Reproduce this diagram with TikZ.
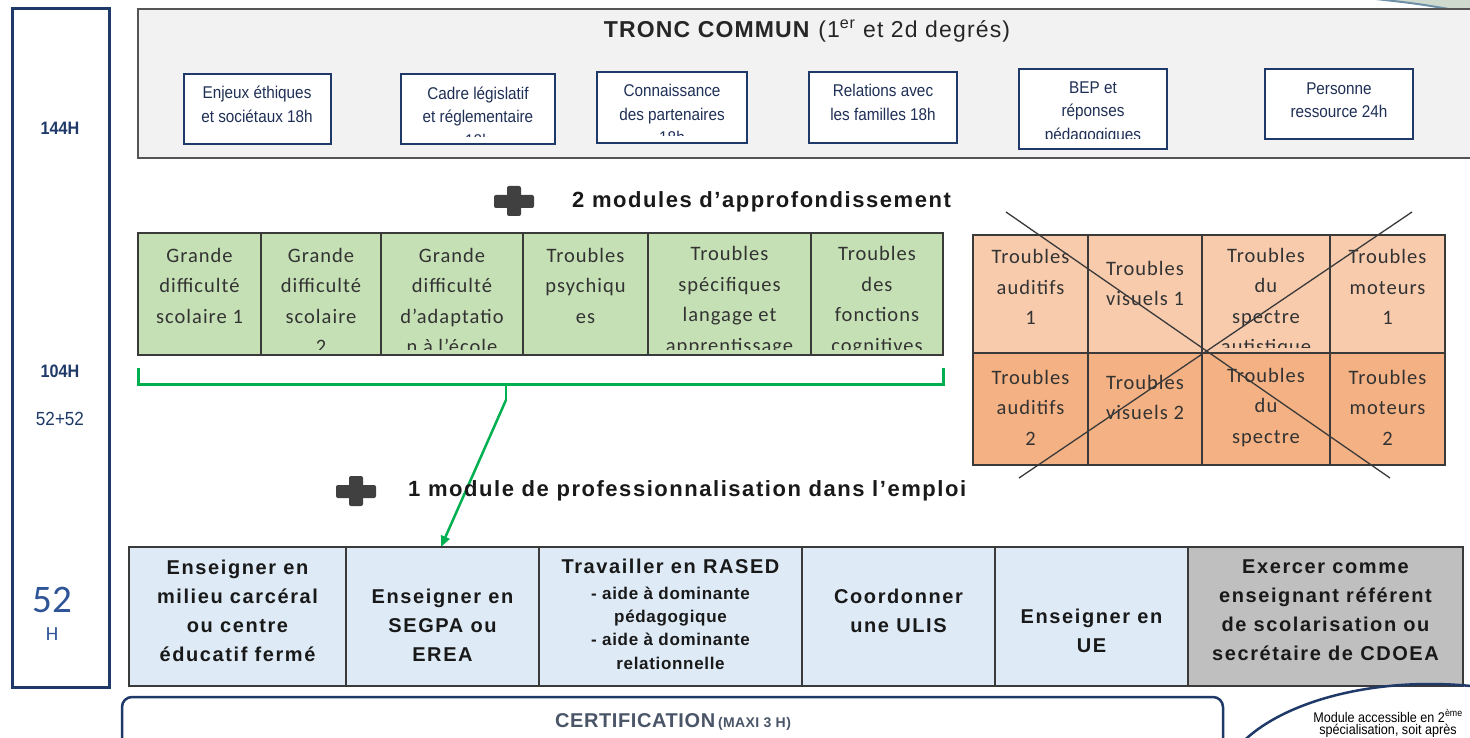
\documentclass[tikz,border=0pt]{standalone}
\usepackage{fontspec}
\setmainfont{Liberation Sans}
\newfontfamily\calib[LetterSpace=5]{Carlito}
\newfontfamily\calibplain{Carlito}
\newfontfamily\narrowf[FakeStretch=0.9]{Liberation Sans}
\newfontfamily\blt[LetterSpace=8]{Liberation Sans}
\newfontfamily\bltsub[LetterSpace=4]{Liberation Sans}
\newfontfamily\headf[LetterSpace=7]{Liberation Sans}
\newfontfamily\titlef[LetterSpace=5]{Liberation Sans}
\newfontfamily\certf[LetterSpace=3]{Liberation Sans}
\usetikzlibrary{arrows.meta}
\definecolor{navy}{HTML}{1F3A68}
\definecolor{troncfill}{HTML}{F2F2F2}
\definecolor{troncline}{HTML}{555555}
\definecolor{tronctext}{HTML}{1F2F55}
\definecolor{greenfill}{HTML}{C5E0B4}
\definecolor{cellline}{HTML}{3A3A3A}
\definecolor{greenline}{HTML}{00B050}
\definecolor{orangeA}{HTML}{F8CBAD}
\definecolor{orangeB}{HTML}{F4B183}
\definecolor{bluefill}{HTML}{DEEBF7}
\definecolor{grayfill}{HTML}{BFBFBF}
\definecolor{plusgray}{HTML}{404040}
\definecolor{certtext}{HTML}{4A5568}
\definecolor{celltext}{HTML}{333333}
\definecolor{cornerfill}{HTML}{CFDACF}
\definecolor{cornerline}{HTML}{6E8FA8}
\definecolor{fiftytwo}{HTML}{2F5597}
\tikzset{
  tbox/.style={draw=navy, fill=white, line width=2.5},
  ttxt/.style={font=\narrowf\fontsize{17}{23.5}\selectfont, align=center, text=tronctext, inner sep=0},
  ctxt/.style={font=\calib\fontsize{20.5}{30.5}\selectfont, align=center, text=celltext, inner sep=0},
  btxt/.style={font=\blt\bfseries\fontsize{20}{29}\selectfont, align=center, text=black!90, inner sep=0},
  bsub/.style={font=\bltsub\bfseries\fontsize{17}{23.3}\selectfont, align=center, text=black!90, inner sep=0},
  cellborder/.style={draw=cellline, line width=1.5},
  plusbar/.style={fill=plusgray, rounded corners=2},
  headtxt/.style={font=\headf\bfseries\fontsize{22}{26}\selectfont, text=black!90, inner sep=0, anchor=west},
  lefttxt/.style={text=navy, inner sep=0}
}
\begin{document}
\begin{tikzpicture}[x=1pt,y=-1pt]
\useasboundingbox (0,0) rectangle (1470,738);
\clip (0,0) rectangle (1470,738);
\fill[white] (0,0) rectangle (1470,738);

% top right corner fragment
\fill[cornerfill] (1376,-2) -- (1472,13) -- (1472,-2) -- cycle;
\draw[cornerline, line width=2] (1376,-1) .. controls (1420,4) .. (1472,13);

% left column
\draw[navy, line width=3] (12,9) rectangle (109,687);
\node[lefttxt, font=\narrowf\bfseries\fontsize{18}{20}\selectfont] (h144) at (60,128) {144H};
\node[lefttxt, font=\narrowf\bfseries\fontsize{18}{20}\selectfont] (h104) at (60,371) {104H};
\node[lefttxt, font=\narrowf\fontsize{19}{20}\selectfont] (h5252) at (60,419) {52+52};
\node[lefttxt, text=fiftytwo, font=\calibplain\fontsize{39}{40}\selectfont] (h52) at (52,600) {52};
\node[lefttxt, text=fiftytwo, font=\calibplain\fontsize{20}{22}\selectfont] (hH) at (52,634) {H};

% tronc commun
\draw[fill=troncfill, draw=troncline, line width=1.5] (138,9) rectangle (1480,158);
\node[font=\titlef\fontsize{23}{27}\selectfont, text=black!85, inner sep=0] (title) at (807,31) {\textbf{TRONC COMMUN} (1\textsuperscript{er} et 2d degrés)};

\draw[tbox] (184,74) rectangle (331,144);
\node[ttxt] (t1) at (257,104.5) {Enjeux éthiques\\et sociétaux 18h};

\draw[tbox] (401,74) rectangle (555,144);
\begin{scope}
\clip (401,74) rectangle (555,137);
\node[ttxt] (t2) at (478,116.5) {Cadre législatif\\et réglementaire\\18h};
\end{scope}

\draw[tbox] (597,72) rectangle (747,143);
\begin{scope}
\clip (597,72) rectangle (747,135.5);
\node[ttxt] (t3) at (672,114) {Connaissance\\des partenaires\\18h};
\end{scope}

\draw[tbox] (809,72) rectangle (957,143);
\node[ttxt] (t4) at (883,102.5) {Relations avec\\les familles 18h};

\draw[tbox] (1019,69) rectangle (1167,149);
\begin{scope}
\clip (1019,69) rectangle (1167,139);
\node[ttxt] (t5) at (1093,112.5) {BEP et\\réponses\\pédagogiques};
\end{scope}

\draw[tbox] (1265,69) rectangle (1413,139);
\node[ttxt] (t6) at (1339,100) {Personne\\ressource 24h};

% plus 1 and heading
\fill[plusbar] (494,195) rectangle (534,208);
\fill[plusbar] (507,186) rectangle (521,216);
\node[headtxt] (head1) at (572,202) {2 modules d’approfondissement};

% green table
\fill[greenfill] (138,233) rectangle (943,355);
\begin{scope}
\clip (138,233) rectangle (943,349);
\node[ctxt] (g1) at (199.5,285.5) {Grande\\difficulté\\scolaire 1};
\node[ctxt] (g2) at (321,301) {Grande\\difficulté\\scolaire\\2};
\node[ctxt] (g3) at (452,301) {Grande\\difficulté\\d’adaptatio\\n à l’école};
\node[ctxt] (g4) at (585.5,285.5) {Troubles\\psychiqu\\es};
\node[ctxt] (g5) at (729.5,301) {Troubles\\spécifiques\\langage et\\apprentissage};
\node[ctxt] (g6) at (877,301) {Troubles\\des\\fonctions\\cognitives};
\end{scope}
\draw[cellborder] (138,233) rectangle (943,355);
\foreach \xx in {261,381,523,648,811} \draw[cellborder] (\xx,233) -- (\xx,355);

% green bracket and arrow
\coordinate (brL) at (138,368);
\coordinate (brR) at (943,368);
\coordinate (brM) at (506,384);
\coordinate (brT) at (506,400);
\coordinate (arrEnd) at (441,547);
\draw[greenline, line width=3] (brL) -- (138,384) -- (943,384) -- (brR);
\draw[greenline, line width=2.5] (brM) -- (brT);
\draw[greenline, line width=2.5, -{Triangle[length=11pt,width=9pt]}] (brT) -- (arrEnd);

% orange table
\fill[orangeA] (973,235) rectangle (1445,353);
\fill[orangeB] (973,353) rectangle (1445,465);
\begin{scope}
\clip (973,235) rectangle (1445,347);
\node[ctxt] (o1) at (1030.5,287) {Troubles\\auditifs\\1};
\node[ctxt] (o2) at (1145,283.5) {Troubles\\visuels 1};
\node[ctxt] (o3) at (1266,302.5) {Troubles\\du\\spectre\\autistique};
\node[ctxt] (o4) at (1387.5,287) {Troubles\\moteurs\\1};
\end{scope}
\node[ctxt] (o5) at (1030.5,407.5) {Troubles\\auditifs\\2};
\node[ctxt] (o6) at (1145,397.5) {Troubles\\visuels 2};
\node[ctxt] (o7) at (1266,407.5) {Troubles\\du\\spectre};
\node[ctxt] (o8) at (1387.5,407.5) {Troubles\\moteurs\\2};
\draw[cellborder] (973,235) rectangle (1445,465);
\draw[cellborder] (973,353) -- (1445,353);
\foreach \xx in {1088,1202,1330} \draw[cellborder] (\xx,235) -- (\xx,465);
\draw[cellline, line width=1.3] (1006,212) -- (1390,478);
\draw[cellline, line width=1.3] (1412,212) -- (1019,478);

% plus 2 and heading
\fill[plusbar] (336,485) rectangle (376,498);
\fill[plusbar] (349,476) rectangle (363,506);
\node[headtxt] (head2) at (408,491) {1 module de professionnalisation dans l’emploi};

% blue table
\fill[bluefill] (129,547) rectangle (1188,686);
\fill[grayfill] (1188,547) rectangle (1463,686);
\draw[cellborder] (129,547) rectangle (1463,686);
\foreach \xx in {346,539,802,995,1188} \draw[cellborder] (\xx,547) -- (\xx,686);
\node[btxt] (b1) at (237.5,610.5) {Enseigner en\\milieu carcéral\\ou centre\\éducatif fermé};
\node[btxt] (b2) at (442.5,625) {Enseigner en\\SEGPA ou\\EREA};
\node[btxt] (b3) at (670.5,566) {Travailler en RASED};
\node[bsub] (b3s) at (670.5,628) {- aide à dominante\\pédagogique\\- aide à dominante\\relationnelle};
\node[btxt] (b4) at (898.5,611) {Coordonner\\une ULIS};
\node[btxt] (b5) at (1091.5,630.5) {Enseigner en\\UE};
\node[btxt] (b6) at (1325.5,610.5) {Exercer comme\\enseignant référent\\de scolarisation ou\\secrétaire de CDOEA};

% certification
\draw[navy, line width=2.5, rounded corners=10] (122,697) rectangle (1223,765);
\node[text=certtext, inner sep=0] (cert) at (673,722) {{\certf\bfseries\fontsize{20}{22}\selectfont CERTIFICATION} {\certf\bfseries\fontsize{14}{16}\selectfont (MAXI 3 H)}};

% ellipse
\draw[navy, line width=2.5] (1430,790) ellipse [x radius=210, y radius=106];
\node[font=\narrowf\fontsize{14}{18}\selectfont, inner sep=0] (ell1) at (1388,716) {Module accessible en 2\textsuperscript{ème}};
\node[font=\narrowf\fontsize{14}{18}\selectfont, inner sep=0] (ell2) at (1388,731) {spécialisation, soit après};
\end{tikzpicture}
\end{document}
